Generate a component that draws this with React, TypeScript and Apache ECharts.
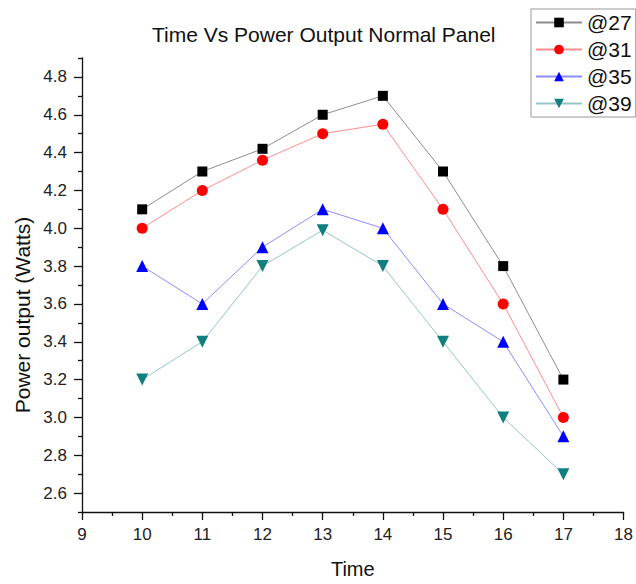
import React, { useEffect, useRef } from "react";
import * as echarts from "echarts";

const times = [10, 11, 12, 13, 14, 15, 16, 17];
const s27 = [4.1, 4.3, 4.42, 4.6, 4.7, 4.3, 3.8, 3.2];
const s31 = [4.0, 4.2, 4.36, 4.5, 4.55, 4.1, 3.6, 3.0];
const s35 = [3.8, 3.6, 3.9, 4.1, 4.0, 3.6, 3.4, 2.9];
const s39 = [3.2, 3.4, 3.8, 3.99, 3.8, 3.4, 3.0, 2.7];
const yMajor = [2.6, 2.8, 3.0, 3.2, 3.4, 3.6, 3.8, 4.0, 4.2, 4.4, 4.6, 4.8];
const yMinor = [2.5, 2.7, 2.9, 3.1, 3.3, 3.5, 3.7, 3.9, 4.1, 4.3, 4.5, 4.7, 4.9];

const FONT = "'Liberation Sans', Arial, sans-serif";

export default function App() {
  const ref = useRef<HTMLDivElement>(null);
  useEffect(() => {
    if (!ref.current) return;
    const chart = echarts.init(ref.current, undefined, { renderer: "svg" });
    const mk = (name: string, data: number[], color: string, symbol: string, rotate = 0, size = 10) => ({
      name,
      type: "line",
      data: times.map((t, i) => [t, data[i]]),
      symbol,
      symbolSize: size,
      symbolRotate: rotate,
      itemStyle: { color },
      lineStyle: { color, width: 1, opacity: 0.45 },
      z: 3,
    });
    chart.setOption({
      animation: false,
      backgroundColor: "#fff",
      textStyle: { fontFamily: FONT },
      title: {
        text: "Time Vs Power Output Normal Panel",
        left: 147,
        top: 19,
        textStyle: { fontFamily: FONT, fontSize: 21, fontWeight: "normal", color: "#111" },
      },
      legend: {
        left: 531,
        top: 9,
        orient: "vertical",
        itemWidth: 46,
        itemHeight: 12,
        itemGap: 6,
        padding: [3, 4, 3, 4],
        borderColor: "#999",
        borderWidth: 1,
        textStyle: { fontFamily: FONT, fontSize: 21, color: "#111", lineHeight: 21, padding: [0, 0, 0, 0] },
        data: ["@27", "@31", "@35", "@39"],
      },
      grid: { left: 82, right: 9, top: 58, bottom: 66, containLabel: false },
      xAxis: {
        type: "value",
        min: 9,
        max: 18,
        interval: 1,
        name: "Time",
        nameLocation: "middle",
        nameGap: 47,
        nameTextStyle: { fontFamily: FONT, fontSize: 20, color: "#111" },
        axisLine: { lineStyle: { color: "#111", width: 1.3 } },
        axisTick: { inside: false, length: 8, lineStyle: { color: "#111", width: 1.3 } },
        minorTick: { show: true, splitNumber: 2, length: 4, lineStyle: { color: "#111", width: 1.3 } },
        axisLabel: { fontFamily: FONT, fontSize: 17, color: "#222", margin: 14 },
        splitLine: { show: false },
      },
      yAxis: [
        {
          type: "value",
          min: 2.5,
          max: 4.9,
          axisLine: { show: true, lineStyle: { color: "#111", width: 1.3 } },
          axisTick: { show: true, length: 8, customValues: yMajor, lineStyle: { color: "#111", width: 1.3 } },
          axisLabel: {
            customValues: yMajor,
            fontFamily: FONT,
            fontSize: 17,
            color: "#222",
            margin: 15,
            formatter: (v: number) => v.toFixed(1),
          },
          splitLine: { show: false },
        },
        {
          type: "value",
          min: 2.5,
          max: 4.9,
          position: "left",
          axisLine: { show: false },
          axisTick: { show: true, length: 4, customValues: yMinor, lineStyle: { color: "#111", width: 1.3 } },
          axisLabel: { show: false },
          splitLine: { show: false },
        },
      ],
      graphic: [
        {
          type: "text",
          x: 22,
          y: 315,
          rotation: Math.PI / 2,
          style: {
            text: "Power output (Watts)",
            fontFamily: FONT,
            fontSize: 21,
            fill: "#111",
            textAlign: "center",
            textVerticalAlign: "middle",
          },
        },
      ],
      series: [
        mk("@27", s27, "#000000", "rect", 0, 10),
        mk("@31", s31, "#ff0000", "circle", 0, 11),
        mk("@35", s35, "#0000ff", "triangle", 0, 12),
        mk("@39", s39, "#0f7f7f", "triangle", 180, 12),
      ],
    });
    return () => chart.dispose();
  }, []);
  return <div ref={ref} style={{ width: 636, height: 584, position: "absolute", left: 0, top: 0 }} />;
}
